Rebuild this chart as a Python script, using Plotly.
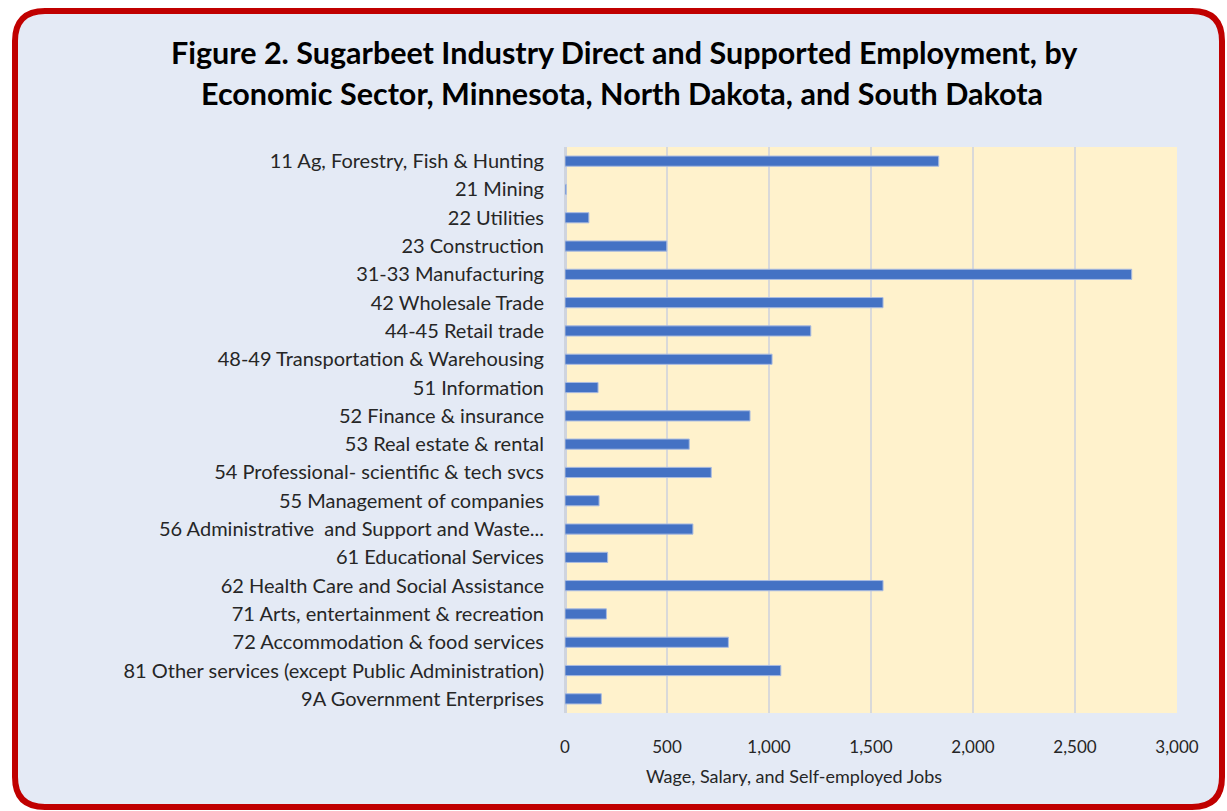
import plotly.graph_objects as go

categories = [
    "11 Ag, Forestry, Fish & Hunting",
    "21 Mining",
    "22 Utilities",
    "23 Construction",
    "31-33 Manufacturing",
    "42 Wholesale Trade",
    "44-45 Retail trade",
    "48-49 Transportation & Warehousing",
    "51 Information",
    "52 Finance & insurance",
    "53 Real estate & rental",
    "54 Professional- scientific & tech svcs",
    "55 Management of companies",
    "56 Administrative  and Support and Waste...",
    "61 Educational Services",
    "62 Health Care and Social Assistance",
    "71 Arts, entertainment & recreation",
    "72 Accommodation & food services",
    "81 Other services (except Public Administration)",
    "9A Government Enterprises",
]
jobs = [1832, 6, 117, 499, 2778, 1559, 1205, 1015, 162, 907,
        609, 717, 167, 627, 209, 1559, 203, 801, 1058, 178]

x_ticks = [0, 500, 1000, 1500, 2000, 2500, 3000]
title_lines = [
    "Figure 2. Sugarbeet Industry Direct and Supported Employment, by",
    "Economic Sector, Minnesota, North Dakota, and South Dakota",
]
x_title = "Wage, Salary, and Self-employed Jobs"

W, H = 1227, 811
L, R, T, B = 565, 1177, 147, 713
PW, PH = R - L, B - T


def px(x):
    return (x - L) / PW


def py(y):
    return (B - y) / PH


def rounded_path(x0, y0, x1, y1, r):
    pts = [
        ("M", (x0 + r, y0)),
        ("L", (x1 - r, y0)),
        ("Q", (x1, y0), (x1, y0 + r)),
        ("L", (x1, y1 - r)),
        ("Q", (x1, y1), (x1 - r, y1)),
        ("L", (x0 + r, y1)),
        ("Q", (x0, y1), (x0, y1 - r)),
        ("L", (x0, y0 + r)),
        ("Q", (x0, y0), (x0 + r, y0)),
    ]
    s = ""
    for p in pts:
        cmd = p[0]
        coords = " ".join(f"{px(a):.5f},{py(b):.5f}" for a, b in p[1:])
        s += f"{cmd} {coords} "
    return s + "Z"


fig = go.Figure(
    go.Bar(
        x=jobs,
        y=categories,
        orientation="h",
        width=0.36,
        marker=dict(color="#4472c4", line=dict(color="#a9bbe0", width=1)),
    )
)

font_family = "Lato, Carlito, Calibri, sans-serif"

annotations = [
    dict(text=f"<b>{title_lines[0]}</b>", x=px(624), y=py(52), xref="paper", yref="paper",
         showarrow=False, xanchor="center", yanchor="middle",
         font=dict(family=font_family, size=30.5, color="#000000")),
    dict(text=f"<b>{title_lines[1]}</b>", x=px(622), y=py(93), xref="paper", yref="paper",
         showarrow=False, xanchor="center", yanchor="middle",
         font=dict(family=font_family, size=30.5, color="#000000")),
    dict(text=x_title, x=px(794), y=py(776), xref="paper", yref="paper",
         showarrow=False, xanchor="center", yanchor="middle",
         font=dict(family=font_family, size=18, color="#262626")),
]

fig.update_layout(
    width=W,
    height=H,
    margin=dict(l=L, r=W - R, t=T, b=H - B, pad=0),
    paper_bgcolor="#ffffff",
    plot_bgcolor="#fff2cc",
    showlegend=False,
    bargap=0.64,
    font=dict(family=font_family, size=18, color="#262626"),
    annotations=annotations,
    shapes=[
        dict(type="path", path=rounded_path(15, 11, 1222, 807, 30),
             xref="paper", yref="paper", layer="below",
             fillcolor="#e4eaf5", line=dict(color="#c00000", width=6)),
        dict(type="rect", x0=0, x1=1, y0=0, y1=1,
             xref="paper", yref="paper", layer="below",
             fillcolor="#fff2cc", line=dict(width=0)),
    ],
    xaxis=dict(
        range=[0, 3000],
        tickvals=x_ticks,
        tickformat=",",
        showgrid=True,
        gridcolor="#d9d9d9",
        gridwidth=2,
        zeroline=True,
        zerolinecolor="#cfd4de",
        zerolinewidth=3,
        ticks="",
        ticklabelstandoff=22,
        tickfont=dict(family=font_family, size=17, color="#262626"),
        fixedrange=True,
    ),
    yaxis=dict(
        autorange="reversed",
        showgrid=False,
        ticks="",
        ticklabelstandoff=20,
        tickfont=dict(family=font_family, size=20, color="#262626"),
        fixedrange=True,
    ),
)

fig.write_html("out.html", config={"displayModeBar": False})
